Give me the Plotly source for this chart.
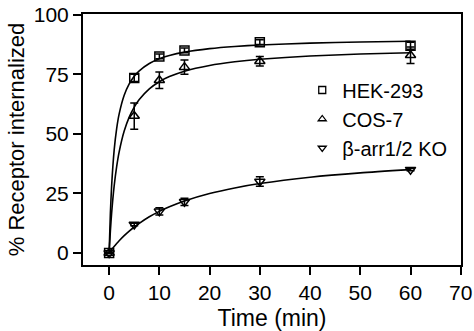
import plotly.graph_objects as go

# Measured data points
time_pts = [0, 5, 10, 15, 30, 60]
hek_y = [0, 73.5, 82.5, 85.0, 88.5, 87.0]
hek_err = [0, 1.5, 1.0, 1.0, 1.0, 1.5]
cos_y = [0, 57.5, 72.5, 78.0, 80.5, 83.0]
cos_err = [0, 5.5, 3.5, 3.0, 2.0, 3.5]
ko_y = [0, 12.0, 17.5, 21.5, 30.0, 35.0]
ko_err = [0, 0.5, 1.5, 1.5, 2.0, 0.5]

# Fitted curves
curve_x = [0, 0.25, 0.5, 1, 1.5, 2, 3, 4, 5, 6, 8, 10, 12, 15, 20, 25, 30, 40, 50, 60]
hek_fit = [0, 16.76, 28.28, 43.10, 52.21, 58.39, 66.22, 70.98, 74.18, 76.48, 79.56,
           81.53, 82.90, 84.32, 85.78, 86.69, 87.30, 88.08, 88.55, 88.87]
cos_fit = [0, 9.26, 16.73, 28.06, 36.25, 42.44, 51.18, 57.05, 61.27, 64.44, 68.91,
           71.90, 74.04, 76.32, 78.73, 80.26, 81.31, 82.66, 83.49, 84.06]
ko_fit = [0, 0.72, 1.41, 2.73, 3.98, 5.15, 7.29, 9.21, 10.94, 12.5, 15.22,
          17.5, 19.44, 21.88, 25.0, 27.34, 29.17, 31.82, 33.65, 35.0]

names = ["HEK-293", "COS-7", "\u03b2-arr1/2 KO"]
symbols = ["square-open", "triangle-up-open", "triangle-down-open"]
x_ticks = [0, 10, 20, 30, 40, 50, 60, 70]
y_ticks = [0, 25, 50, 75, 100]

fig = go.Figure()
for fit in [hek_fit, cos_fit, ko_fit]:
    fig.add_trace(go.Scatter(x=curve_x, y=fit, mode="lines", showlegend=False,
                             line=dict(color="black", width=1.6, shape="spline", smoothing=0.6),
                             hoverinfo="skip"))

for ys, errs, sym in zip([hek_y, cos_y, ko_y], [hek_err, cos_err, ko_err], symbols):
    fig.add_trace(go.Scatter(x=time_pts, y=ys, mode="markers", showlegend=False,
                             marker=dict(symbol=sym, size=9, color="black",
                                         line=dict(color="black", width=1.5)),
                             error_y=dict(type="data", array=errs, visible=True,
                                          color="black", thickness=1.5, width=4)))

for name, sym in zip(names, symbols):
    fig.add_trace(go.Scatter(x=[None], y=[None], mode="markers", name=name,
                             marker=dict(symbol=sym, size=7, color="black",
                                         line=dict(color="black", width=1.3))))

fig.update_layout(
    width=474, height=331,
    margin=dict(l=83, r=13, t=14, b=66),
    paper_bgcolor="white", plot_bgcolor="white",
    font=dict(family="Liberation Sans, Arial, sans-serif", color="black"),
    showlegend=True,
    legend=dict(x=0.58, y=0.775, xanchor="left", yanchor="top",
                bgcolor="rgba(0,0,0,0)", font=dict(size=20), tracegroupgap=0),
    xaxis=dict(range=[-5.2, 70.05], tickvals=x_ticks, showgrid=False, zeroline=False,
               showline=True, linecolor="black", linewidth=2, mirror=True,
               ticks="outside", ticklen=8, tickwidth=2, tickcolor="black",
               tickfont=dict(size=21), automargin=False,
               title=dict(text="Time (min)", font=dict(size=23), standoff=9)),
    yaxis=dict(range=[-5, 100.3], tickvals=y_ticks, showgrid=False, zeroline=False,
               showline=True, linecolor="black", linewidth=2, mirror=True,
               ticks="outside", ticklen=8, tickwidth=2, tickcolor="black",
               tickfont=dict(size=21), automargin=False,
               title=dict(text="% Receptor internalized", font=dict(size=22), standoff=3)),
)

fig.write_html("out.html")
